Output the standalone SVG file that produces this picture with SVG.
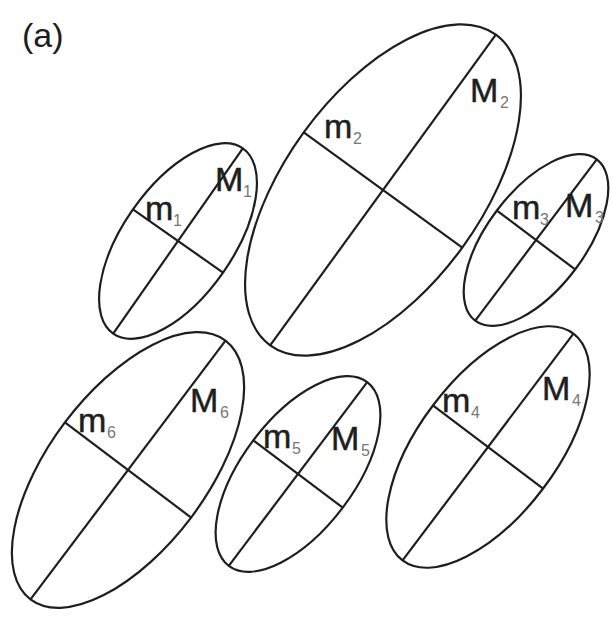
<svg xmlns="http://www.w3.org/2000/svg" width="613" height="621" viewBox="0 0 613 621">
<style>
.sh{fill:none;stroke:#1e1e1e;stroke-width:2.2}
.lb{font-family:"Liberation Sans",Arial,sans-serif;font-size:34px;fill:#1e1e1e;stroke:#1e1e1e;stroke-width:0.5}
.sb{font-family:"Liberation Sans",Arial,sans-serif;font-size:16px;fill:#777}
</style>
<rect width="613" height="621" fill="#fff"/>
<text class="lb" x="22" y="47" style="stroke-width:0">(a)</text>
<g id="node1">
<g transform="translate(178,241) rotate(-55)">
<ellipse class="sh" cx="0" cy="0" rx="113" ry="55"/>
<line class="sh" x1="-113" y1="0" x2="113" y2="0"/>
<line class="sh" x1="0" y1="-55" x2="0" y2="55"/>
</g>
<text class="lb" x="145" y="220">m</text><text class="sb" x="173" y="226">1</text>
<text class="lb" x="215" y="191">M</text><text class="sb" x="243" y="197">1</text>
</g>
<g id="node2">
<g transform="translate(383,190) rotate(-54)">
<ellipse class="sh" cx="0" cy="0" rx="192" ry="98"/>
<line class="sh" x1="-192" y1="0" x2="192" y2="0"/>
<line class="sh" x1="0" y1="-98" x2="0" y2="98"/>
</g>
<text class="lb" x="324" y="138">m</text><text class="sb" x="353" y="144">2</text>
<text class="lb" x="470" y="102">M</text><text class="sb" x="500" y="108">2</text>
</g>
<g id="node3">
<g transform="translate(536,240) rotate(-53)">
<ellipse class="sh" cx="0" cy="0" rx="101" ry="49"/>
<line class="sh" x1="-101" y1="0" x2="101" y2="0"/>
<line class="sh" x1="0" y1="-49" x2="0" y2="49"/>
</g>
<text class="lb" x="512" y="219">m</text><text class="sb" x="540" y="225">3</text>
<text class="lb" x="565" y="217">M</text><text class="sb" x="595" y="223">3</text>
</g>
<g id="node4">
<g transform="translate(488,447) rotate(-53)">
<ellipse class="sh" cx="0" cy="0" rx="142" ry="69"/>
<line class="sh" x1="-142" y1="0" x2="142" y2="0"/>
<line class="sh" x1="0" y1="-69" x2="0" y2="69"/>
</g>
<text class="lb" x="442" y="412">m</text><text class="sb" x="471" y="418">4</text>
<text class="lb" x="542" y="400">M</text><text class="sb" x="572" y="406">4</text>
</g>
<g id="node5">
<g transform="translate(298,474) rotate(-53)">
<ellipse class="sh" cx="0" cy="0" rx="115" ry="56"/>
<line class="sh" x1="-115" y1="0" x2="115" y2="0"/>
<line class="sh" x1="0" y1="-56" x2="0" y2="56"/>
</g>
<text class="lb" x="263" y="448">m</text><text class="sb" x="292" y="454">5</text>
<text class="lb" x="331" y="450">M</text><text class="sb" x="361" y="456">5</text>
</g>
<g id="node6">
<g transform="translate(128,470) rotate(-53)">
<ellipse class="sh" cx="0" cy="0" rx="162" ry="79"/>
<line class="sh" x1="-162" y1="0" x2="162" y2="0"/>
<line class="sh" x1="0" y1="-79" x2="0" y2="79"/>
</g>
<text class="lb" x="78" y="432">m</text><text class="sb" x="107" y="438">6</text>
<text class="lb" x="190" y="412">M</text><text class="sb" x="220" y="418">6</text>
</g>
<g id="connectors"></g>
</svg>
